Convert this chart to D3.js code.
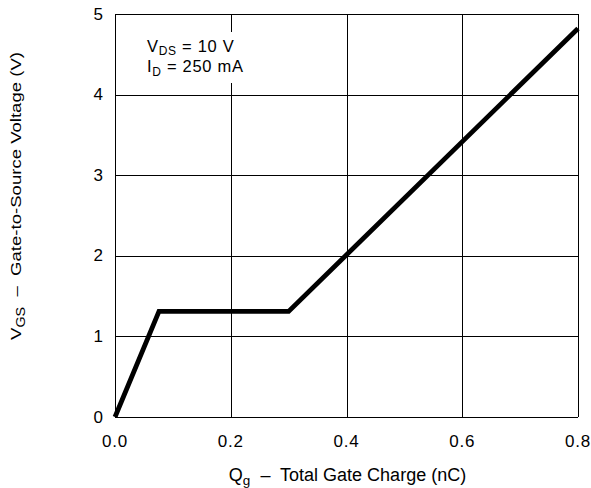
<!DOCTYPE html>
<html>
<head>
<meta charset="utf-8">
<script src="https://cdn.jsdelivr.net/npm/d3@7"></script>
<style>
  html, body { margin: 0; padding: 0; background: #fff; }
  svg { display: block; }
  text { font-family: "Liberation Sans", Arial, Helvetica, sans-serif; fill: #000; }
</style>
</head>
<body>
<svg id="chart" width="591" height="488"></svg>
<script>
// Gate charge curve: Qg (nC) vs VGS (V)
const chargeNC = [0, 0.076, 0.30, 0.80];
const gateVolts = [0, 1.31, 1.31, 4.82];
const xTicks = [0, 0.2, 0.4, 0.6, 0.8];
const yTicks = [0, 1, 2, 3, 4, 5];

const svg = d3.select("#chart");
const margin = { left: 115, right: 13, top: 14, bottom: 71 };
const W = 591, H = 488;

const x = d3.scaleLinear().domain([0, 0.8]).range([margin.left, W - margin.right]);
const y = d3.scaleLinear().domain([0, 5]).range([H - margin.bottom, margin.top]);

// grid lines
const grid = svg.append("g").attr("stroke", "#000").attr("stroke-width", 1).attr("shape-rendering", "crispEdges");
grid.selectAll("line.v").data(xTicks).join("line")
  .attr("x1", d => Math.round(x(d)) + 0.5).attr("x2", d => Math.round(x(d)) + 0.5)
  .attr("y1", y(5)).attr("y2", y(0));
grid.selectAll("line.h").data(yTicks).join("line")
  .attr("x1", x(0)).attr("x2", x(0.8))
  .attr("y1", d => Math.round(y(d)) + 0.5).attr("y2", d => Math.round(y(d)) + 0.5);

// tick labels
svg.append("g").selectAll("text").data(yTicks).join("text")
  .attr("x", x(0) - 12).attr("y", d => y(d) + 5.5)
  .attr("text-anchor", "end").attr("font-size", 17)
  .text(d => d);
svg.append("g").selectAll("text").data(xTicks).join("text")
  .attr("x", d => x(d)).attr("y", 447)
  .attr("text-anchor", "middle").attr("font-size", 17).attr("letter-spacing", 0.8)
  .text(d => d.toFixed(1));

// condition note with white backing
svg.append("rect").attr("x", 141).attr("y", 32).attr("width", 104).attr("height", 51).attr("fill", "#fff");
const note = svg.append("g").attr("font-size", 16.5).attr("letter-spacing", 0.7);
const l1 = note.append("text").attr("x", 147).attr("y", 51.5);
l1.append("tspan").text("V");
l1.append("tspan").attr("font-size", 12).attr("dy", 3.5).text("DS");
l1.append("tspan").attr("dy", -3.5).text(" = 10 V");
const l2 = note.append("text").attr("x", 147).attr("y", 72);
l2.append("tspan").text("I");
l2.append("tspan").attr("font-size", 12).attr("dy", 3.5).text("D");
l2.append("tspan").attr("dy", -3.5).text(" = 250 mA");

// curve
const pts = chargeNC.map((q, i) => [q, gateVolts[i]]);
svg.append("path").datum(pts)
  .attr("fill", "none").attr("stroke", "#000").attr("stroke-width", 4.8)
  .attr("stroke-linejoin", "miter")
  .attr("d", d3.line().x(d => x(d[0])).y(d => y(d[1])));

// axis titles
const xt = svg.append("text").attr("x", 347.5).attr("y", 481).attr("text-anchor", "middle")
  .attr("font-size", 18).attr("xml:space", "preserve");
xt.append("tspan").text("Q");
xt.append("tspan").attr("font-size", 13.5).attr("dy", 4).text("g");
xt.append("tspan").attr("dy", -4).text("  \u2013  Total Gate Charge (nC)");

const yt = svg.append("text").attr("transform", "translate(20.5,196) rotate(-90)")
  .attr("text-anchor", "middle").attr("font-size", 15.5).attr("xml:space", "preserve")
  .attr("textLength", 288).attr("lengthAdjust", "spacingAndGlyphs");
yt.append("tspan").text("V");
yt.append("tspan").attr("font-size", 12).attr("dy", 4).text("GS");
yt.append("tspan").attr("dy", -4).text("  \u2013  Gate-to-Source Voltage (V)");
</script>
</body>
</html>
